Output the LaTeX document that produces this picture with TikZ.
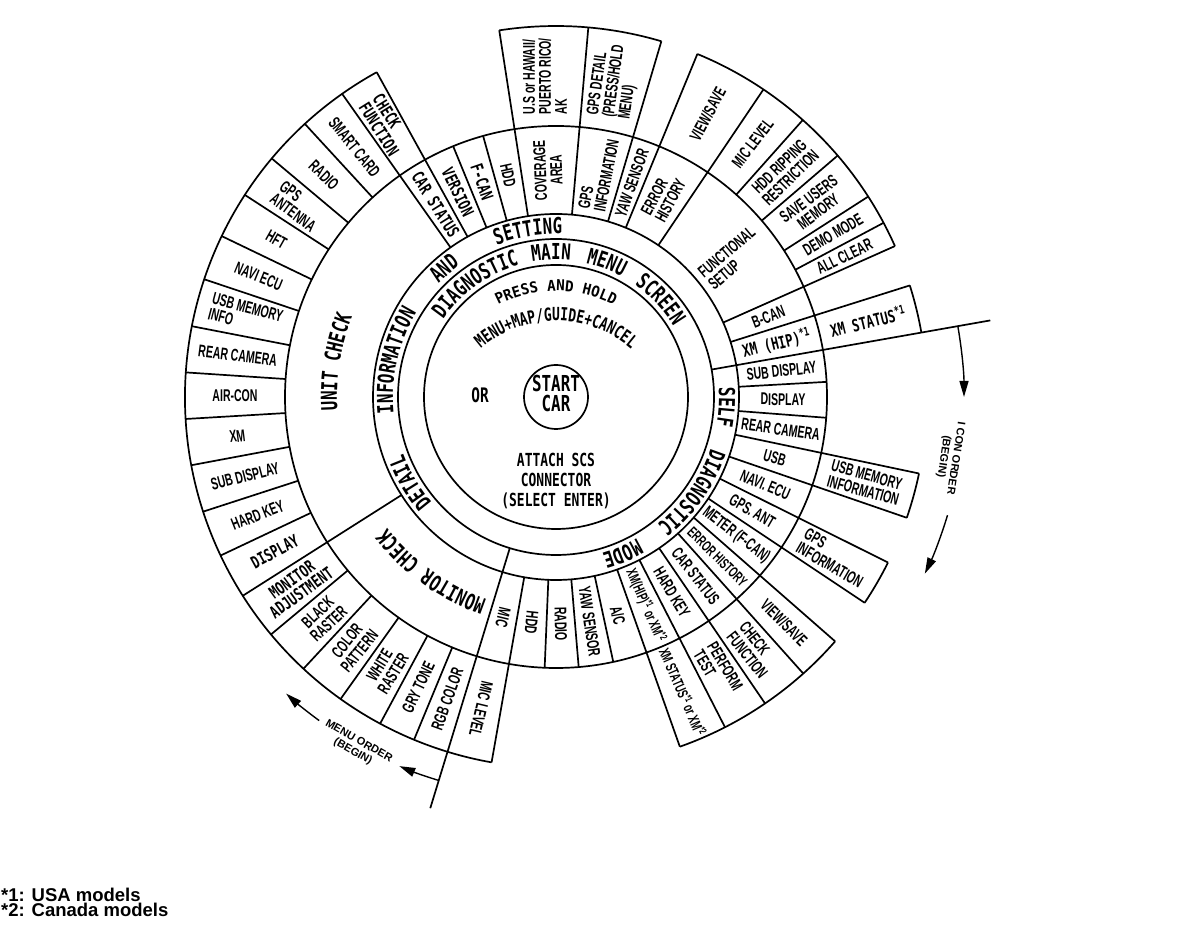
\documentclass[tikz,border=0pt]{standalone}
\usepackage{fontspec}
\setmainfont{Liberation Sans}
\newfontfamily\itemfamily{Liberation Sans}[FakeStretch=0.62]
\newfontfamily\ringfamily{DejaVu Sans Mono}[FakeStretch=0.72]
\newfontfamily\widefamily{DejaVu Sans Mono}[FakeStretch=0.95]
\usetikzlibrary{arrows.meta}
\usetikzlibrary{decorations.text}

% word set along a ring, centred on an angle, baseline on a radius
\newcommand{\ringword}[3]{%
  \path[decorate, decoration={text along path, text align=center,
    text={|\ringfamily\bfseries\fontsize{22}{22}\selectfont|#1}}]
    ([shift={(#2+50:#3)}]C) arc[start angle=#2+50, end angle=#2-50, radius=#3];}

\tikzset{
  line/.style={line width=1.7pt},
  item/.style={font=\itemfamily\bfseries\fontsize{17}{16}\selectfont, align=center, inner sep=0pt},
  itemsmall/.style={item, font=\itemfamily\bfseries\fontsize{15}{15}\selectfont},
  monoitem/.style={font=\ringfamily\bfseries\fontsize{17}{16}\selectfont, align=center, inner sep=0pt},
  centretext/.style={font=\ringfamily\bfseries\fontsize{22}{20}\selectfont, align=center, inner sep=0pt},
  note/.style={font=\bfseries\fontsize{11}{12}\selectfont, align=center, inner sep=0pt},
  foot/.style={font=\bfseries\fontsize{18.5}{15}\selectfont, inner sep=0pt, anchor=base west},
  orderarrow/.style={line width=1.4pt, -{Triangle[length=16pt,width=9pt]}}
}

\begin{document}
\begin{tikzpicture}[x=1pt,y=1pt]
\useasboundingbox (0,0) rectangle (1184,944);
\coordinate (C) at (556,547);
\coordinate (pr) at (556,527);
\coordinate (mm) at (556,508);

% Rings
\draw[line] (C) circle[radius=32];
\draw[line] (C) circle[radius=132];
\draw[line] (C) circle[radius=158];
\draw[line] (C) circle[radius=183];
\draw[line] (C) circle[radius=271];
% Outer ring arcs
\draw[line] ([shift={(118.9:371)}]C) arc[start angle=118.9, end angle=260, radius=371];
\draw[line] ([shift={(-70.5:371)}]C) arc[start angle=-70.5, end angle=-41.2, radius=371];
\draw[line] ([shift={(-33.7:371)}]C) arc[start angle=-33.7, end angle=-26.5, radius=371];
\draw[line] ([shift={(-19:371)}]C) arc[start angle=-19, end angle=-11.9, radius=371];
\draw[line] ([shift={(10:371)}]C) arc[start angle=10, end angle=17.5, radius=371];
\draw[line] ([shift={(24:371)}]C) arc[start angle=24, end angle=67.6, radius=371];
\draw[line] ([shift={(73.5:371)}]C) arc[start angle=73.5, end angle=98.8, radius=371];

% Dividers, inner ring only
\foreach \a in {112.3,105.6,3.2,-4.4,-77.8,-85.2,-92.4}
  \draw[line] ([shift={(\a:183)}]C) -- ([shift={(\a:271)}]C);
% Dividers, both rings
\foreach \a in {125.2,118.9,98.8,85,73.5,67.6,56,24,17.5,-11.9,-19,-26.5,-33.7,-41.2,-48.2,-55.7,-62.9,-70.5,-100,212.4}
  \draw[line] ([shift={(\a:183)}]C) -- ([shift={(\a:371)}]C);
% Dividers, outer ring only
\foreach \a in {48.3,40.6,32.7,28,132.6,140,147,154.3,161.5,169,176.2,183.4,190.6,198,205.3,219.8,227.1,234.5,241.7,247.5}
  \draw[line] ([shift={(\a:271)}]C) -- ([shift={(\a:371)}]C);
% Order lines
\draw[line] ([shift={(10:158)}]C) -- ([shift={(10:441)}]C);
\draw[line] ([shift={(253:158)}]C) -- ([shift={(253:430)}]C);

% Order arrows
\coordinate (menu-a) at ([shift={(253:401)}]C);
\coordinate (menu-b) at ([shift={(233.8:401)}]C);
\coordinate (icon-a) at ([shift={(10:408)}]C);
\coordinate (icon-b) at ([shift={(-16.8:409)}]C);
\draw[orderarrow] (menu-a) arc[start angle=253, end angle=247, radius=401];
\draw[orderarrow] (menu-b) arc[start angle=233.8, end angle=227.7, radius=401];
\draw[orderarrow] (icon-a) arc[start angle=10, end angle=0, radius=408];
\draw[orderarrow] (icon-b) arc[start angle=-16.8, end angle=-25.6, radius=409];
\node[note, rotate=-29.8] (menuorder) at ([shift={(240.2:403)}]C) {MENU ORDER\\(BEGIN)};
\node[note, rotate=-98.7] (iconorder) at ([shift={(-8.7:398)}]C) {I CON ORDER\\(BEGIN)};

% Centre
\node[centretext] (startcar) at ([yshift=3]C) {START\\CAR};
\node[centretext, font=\ringfamily\bfseries\fontsize{20}{20}\selectfont] (or) at (480,549) {OR};
\node[centretext, font=\ringfamily\bfseries\fontsize{18}{20}\selectfont] (attach) at (556,463) {ATTACH SCS\\CONNECTOR\\(SELECT ENTER)};
\path[decorate, decoration={text along path, text align=center,
  text={|\widefamily\bfseries\fontsize{15}{15}\selectfont|PRESS AND HOLD}}]
  ([shift={(150:126)}]pr) arc[start angle=150, end angle=30, radius=126];
\path[decorate, decoration={text along path, text align=center,
  text={|\ringfamily\bfseries\fontsize{18}{18}\selectfont|MENU+MAP/GUIDE+CANCEL}}]
  ([shift={(160:115)}]mm) arc[start angle=160, end angle=20, radius=115];

% Ring words
\ringword{DIAGNOSTIC}{125.5}{137}
\ringword{MAIN}{92}{137}
\ringword{MENU}{69.3}{137}
\ringword{SCREEN}{43}{137}
\ringword{DETAIL}{210.4}{163}
\ringword{INFORMATION}{167.2}{163}
\ringword{AND}{131}{163}
\ringword{SETTING}{99.6}{163}
\ringword{SELF}{-3.4}{163}
\ringword{DIAGNOSTIC}{-35}{163}
\ringword{MODE}{-67}{163}
\ringword{UNIT CHECK}{171}{219}
\ringword{MONITOR CHECK}{234.5}{214}

% Information and setting
\node[monoitem, rotate=-58] (in-carstatus) at ([shift={(122:227)}]C) {CAR STATUS};
\node[monoitem, rotate=-64.4] (in-version) at ([shift={(115.6:227)}]C) {VERSION};
\node[monoitem, rotate=-71] (in-fcan) at ([shift={(109:227)}]C) {F-CAN};
\node[item, rotate=-77.8] (in-hdd) at ([shift={(102.2:227)}]C) {HDD};
\node[item, rotate=92] (in-coverage) at ([shift={(92:227)}]C) {COVERAGE\\AREA};
\node[item, align=left, rotate=79] (in-gpsinfo) at ([shift={(79.2:227)}]C) {GPS\\INFORMATION};
\node[item, rotate=70.5] (in-yaw) at ([shift={(70.5:227)}]C) {YAW SENSOR};
\node[item, align=left, rotate=61.8] (in-errhist) at ([shift={(61.8:227)}]C) {ERROR\\HISTORY};
\node[item, align=left, rotate=40] (in-funcsetup) at ([shift={(38.3:224)}]C) {FUNCTIONAL\\SETUP};
\node[item, rotate=20.7] (in-bcan) at ([shift={(20.7:227)}]C) {B-CAN};
\node[monoitem, rotate=13.7] (in-xmhip) at ([shift={(13.7:227)}]C) {XM (HIP)\textsuperscript{*1}};
\node[monoitem, rotate=13.7] (is-xmstatus) at ([shift={(13.7:321)}]C) {XM STATUS\textsuperscript{*1}};
\node[item, rotate=26] (is-allclear) at ([shift={(26:321)}]C) {ALL CLEAR};
\node[item, rotate=30.4] (is-demo) at ([shift={(30.4:321)}]C) {DEMO MODE};
\node[item, rotate=36.7] (is-saveusers) at ([shift={(36.7:321)}]C) {SAVE USERS\\MEMORY};
\node[item, rotate=44.5] (is-hddrip) at ([shift={(44.5:321)}]C) {HDD RIPPING\\RESTRICTION};
\node[item, rotate=52.2] (is-miclevel) at ([shift={(52.2:321)}]C) {MIC LEVEL};
\node[item, rotate=61.8] (is-viewsave) at ([shift={(61.8:321)}]C) {VIEW/SAVE};
\node[item, align=left, rotate=82] (is-gpsdetail) at ([shift={(79.5:321)}]C) {GPS DETAIL\\(PRESS/HOLD\\MENU)};
\node[item, align=left, rotate=90] (is-area) at ([shift={(92:321)}]C) {U.S or HAWAII/\\PUERTO RICO/\\AK};
\node[monoitem, align=left, rotate=-58] (is-checkfn) at ([shift={(122:321)}]C) {CHECK\\FUNCTION};

% Unit check
\node[item, rotate=-51.1] (uc-smart) at ([shift={(128.9:321)}]C) {SMART CARD};
\node[item, rotate=-43.7] (uc-radio) at ([shift={(136.3:321)}]C) {RADIO};
\node[item, align=left, rotate=-36.5] (uc-gpsant) at ([shift={(143.5:321)}]C) {GPS\\ANTENNA};
\node[item, rotate=-29.4] (uc-hft) at ([shift={(150.6:321)}]C) {HFT};
\node[item, rotate=-22.1] (uc-navi) at ([shift={(157.9:321)}]C) {NAVI ECU};
\node[item, align=left, rotate=-14.8] (uc-usb) at ([shift={(165.2:321)}]C) {USB MEMORY\\INFO};
\node[item, rotate=-7.4] (uc-rearcam) at ([shift={(172.6:321)}]C) {REAR CAMERA};
\node[item] (uc-aircon) at ([shift={(179.8:321)}]C) {AIR-CON};
\node[item, rotate=7] (uc-xm) at ([shift={(187:321)}]C) {XM};
\node[item, rotate=14.3] (uc-subdisp) at ([shift={(194.3:321)}]C) {SUB DISPLAY};
\node[item, rotate=21.6] (uc-hardkey) at ([shift={(201.6:321)}]C) {HARD KEY};
\node[monoitem, rotate=28.8] (uc-disp) at ([shift={(208.8:321)}]C) {DISPLAY};

% Monitor check
\node[monoitem, rotate=36.1] (mc-adjust) at ([shift={(216.1:321)}]C) {MONITOR\\ADJUSTMENT};
\node[item, rotate=43.5] (mc-black) at ([shift={(223.5:321)}]C) {BLACK\\RASTER};
\node[item, rotate=50.8] (mc-color) at ([shift={(230.8:321)}]C) {COLOR\\PATTERN};
\node[item, rotate=58.1] (mc-white) at ([shift={(238.1:321)}]C) {WHITE\\RASTER};
\node[item, rotate=64.6] (mc-gry) at ([shift={(244.6:321)}]C) {GRY TONE};
\node[item, rotate=70.2] (mc-rgb) at ([shift={(250.2:321)}]C) {RGB COLOR};

% Self diagnostic
\node[item, rotate=6.6] (sd-subdisp) at ([shift={(6.6:227)}]C) {SUB DISPLAY};
\node[item, rotate=-0.6] (sd-disp) at ([shift={(-0.6:227)}]C) {DISPLAY};
\node[item, rotate=-8.2] (sd-rearcam) at ([shift={(-8.2:227)}]C) {REAR CAMERA};
\node[item, rotate=-15.5] (sd-usb) at ([shift={(-15.5:227)}]C) {USB};
\node[item, rotate=-22.8] (sd-navi) at ([shift={(-22.8:227)}]C) {NAVI. ECU};
\node[item, rotate=-30.1] (sd-gpsant) at ([shift={(-30.1:227)}]C) {GPS. ANT};
\node[item, rotate=-37.5] (sd-meter) at ([shift={(-37.5:227)}]C) {METER (F-CAN)};
\node[itemsmall, rotate=-44.7] (sd-errhist) at ([shift={(-44.7:227)}]C) {ERROR HISTORY};
\node[item, rotate=-52] (sd-carstatus) at ([shift={(-52:227)}]C) {CAR STATUS};
\node[item, rotate=-59.3] (sd-hardkey) at ([shift={(-59.3:227)}]C) {HARD KEY};
\node[itemsmall, rotate=-66.7] (sd-xmhip) at ([shift={(-66.7:227)}]C) {XM(HIP)\textsuperscript{*1} or XM\textsuperscript{*2}};
\node[item, rotate=-74.2] (sd-ac) at ([shift={(-74.2:227)}]C) {A/C};
\node[item, rotate=-81.5] (sd-yaw) at ([shift={(-81.5:227)}]C) {YAW SENSOR};
\node[item, rotate=-88.8] (sd-radio) at ([shift={(-88.8:227)}]C) {RADIO};
\node[item, rotate=-96.2] (sd-hdd) at ([shift={(-96.2:227)}]C) {HDD};
\node[item, rotate=-103.5] (sd-mic) at ([shift={(-103.5:227)}]C) {MIC};
\node[item, rotate=-103.5] (sd-miclevel) at ([shift={(256.5:321)}]C) {MIC LEVEL};
\node[itemsmall, rotate=-66.7] (sd-xmstatus) at ([shift={(-66.7:321)}]C) {XM STATUS\textsuperscript{*1} or XM\textsuperscript{*2}};
\node[item, align=left, rotate=-59.3] (sd-perform) at ([shift={(-59.3:318)}]C) {PERFORM\\TEST};
\node[item, align=left, rotate=-52] (sd-checkfn) at ([shift={(-52:321)}]C) {CHECK\\FUNCTION};
\node[item, rotate=-44.7] (sd-viewsave) at ([shift={(-44.7:321)}]C) {VIEW/SAVE};
\node[item, align=left, rotate=-30.1] (sd-gpsinfo) at ([shift={(-30.1:321)}]C) {GPS\\INFORMATION};
\node[item, align=left, rotate=-15.5] (sd-usbmem) at ([shift={(-15.5:321)}]C) {USB MEMORY\\INFORMATION};

% Footnotes
\node[foot] (fn1) at (1,42) {*1: USA models};
\node[foot] (fn2) at (1,27) {*2: Canada models};
\end{tikzpicture}
\end{document}
